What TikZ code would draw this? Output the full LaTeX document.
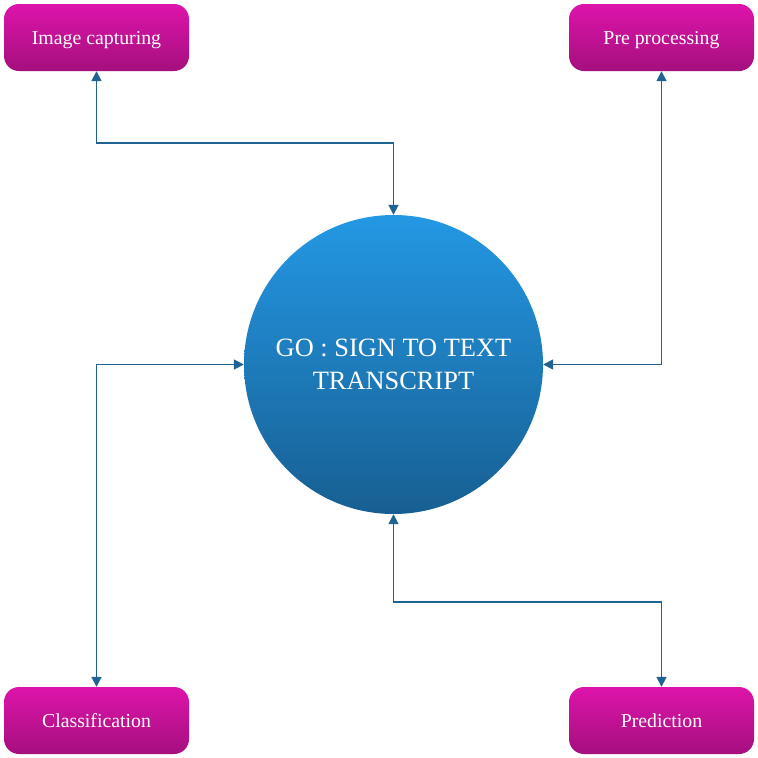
\documentclass[tikz,border=0pt]{standalone}
\usepackage{fontspec}
\setmainfont{Liberation Serif}
\usetikzlibrary{arrows.meta}
\definecolor{boxtop}{HTML}{DD14AB}
\definecolor{boxbot}{HTML}{A50F7D}
\definecolor{circtop}{HTML}{2498E4}
\definecolor{circbot}{HTML}{175F92}
\definecolor{conncol}{HTML}{1F6393}
\tikzset{
  stepbox/.style={rectangle, rounded corners=15pt, minimum width=185pt, minimum height=67pt,
    top color=boxtop, bottom color=boxbot, draw=none, text=white, font=\fontsize{19.8}{24}\selectfont,
    inner sep=0pt, text height=17.6pt, text depth=4pt},
  hub/.style={circle, minimum size=299pt, top color=circtop, bottom color=circbot, draw=none,
    text=white, font=\fontsize{26.4}{32.6}\selectfont, align=center, inner sep=0pt},
  conn/.style={draw=conncol, line width=1.7pt, {Triangle[length=10pt,width=10pt]}-{Triangle[length=10pt,width=10pt]}}
}
\begin{document}
\begin{tikzpicture}[x=1pt,y=-1pt]
\useasboundingbox[fill=white] (0,0) rectangle (758,758);
\node[stepbox] (img) at (96.5,37.5) {Image capturing};
\node[stepbox] (pre) at (661.5,37.5) {Pre processing};
\node[stepbox] (cls) at (96.5,720.5) {Classification};
\node[stepbox] (pred) at (661.5,720.5) {Prediction};
\node[hub] (go) at (393.5,364.5) {GO : SIGN TO TEXT\\TRANSCRIPT};
\draw[conn] (img.south) -- (img.south |- 0,143) -| (go.north);
\draw[conn] (pre.south) |- (go.east);
\draw[conn] (cls.north) |- (go.west);
\draw[conn] (pred.north) -- (pred.north |- 0,602) -| (go.south);
\end{tikzpicture}
\end{document}
